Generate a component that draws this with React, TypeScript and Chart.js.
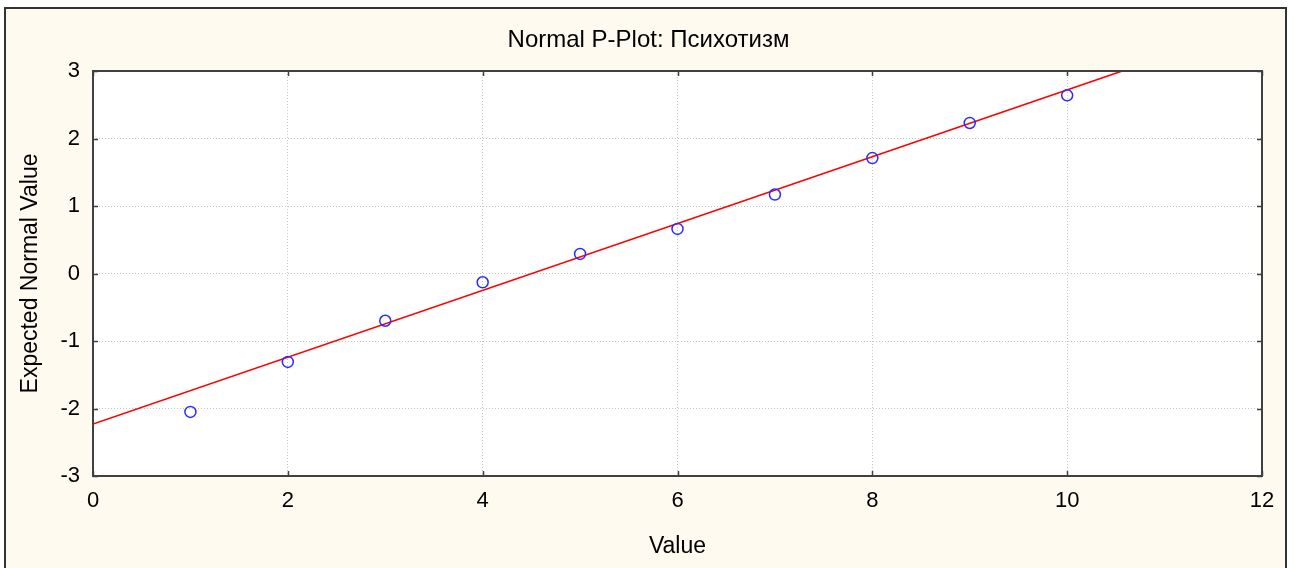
import React, { useEffect, useRef } from "react";
import { Chart, registerables } from "chart.js";

Chart.register(...registerables);

const titleText = "Normal P-Plot: Психотизм";
const xLabel = "Value";
const yLabel = "Expected Normal Value";
const pointX = [1, 2, 3, 4, 5, 6, 7, 8, 9, 10];
const pointY = [-2.05, -1.31, -0.7, -0.13, 0.29, 0.66, 1.17, 1.71, 2.23, 2.64];
const fitX = [0, 12];
const fitY = [-2.23, 3.71];
const xRange = [0, 12];
const yRange = [-3, 3];

const FONT = "'Liberation Sans', Arial, sans-serif";

const framePlugin = {
  id: "framePlugin",
  beforeDraw(chart: any) {
    const { ctx, width, height, chartArea } = chart;
    ctx.save();
    ctx.fillStyle = "#ffffff";
    ctx.fillRect(0, 0, width, height);
    ctx.fillStyle = "#fffaf0";
    ctx.fillRect(5, 8, 1281, height + 20);
    ctx.strokeStyle = "#333333";
    ctx.lineWidth = 2;
    ctx.strokeRect(5, 8, 1281, height + 20);
    ctx.fillStyle = "#ffffff";
    ctx.fillRect(chartArea.left, chartArea.top, chartArea.right - chartArea.left, chartArea.bottom - chartArea.top);
    // title
    ctx.fillStyle = "#000000";
    ctx.font = `24px ${FONT}`;
    ctx.textAlign = "center";
    ctx.textBaseline = "middle";
    ctx.fillText(titleText, width / 2, 40);
    ctx.restore();
  },
  afterDraw(chart: any) {
    const { ctx, chartArea, scales } = chart;
    const { left, right, top, bottom } = chartArea;
    ctx.save();
    ctx.strokeStyle = "#404040";
    ctx.lineWidth = 2;
    ctx.strokeRect(left, top, right - left, bottom - top);
    ctx.lineWidth = 1.5;
    const tl = 5;
    ctx.beginPath();
    scales.x.ticks.forEach((t: any) => {
      const px = Math.round(scales.x.getPixelForValue(t.value)) + 0.5;
      ctx.moveTo(px, bottom);
      ctx.lineTo(px, bottom - tl);
      ctx.moveTo(px, top);
      ctx.lineTo(px, top + tl);
    });
    scales.y.ticks.forEach((t: any) => {
      const py = Math.round(scales.y.getPixelForValue(t.value)) + 0.5;
      ctx.moveTo(left, py);
      ctx.lineTo(left + tl, py);
      ctx.moveTo(right, py);
      ctx.lineTo(right - tl, py);
    });
    ctx.stroke();
    ctx.restore();
  },
};

export default function App() {
  const ref = useRef<HTMLCanvasElement | null>(null);
  useEffect(() => {
    document.body.style.margin = "0";
    const canvas = ref.current!;
    const chart = new Chart(canvas, {
      type: "scatter",
      data: {
        datasets: [
          {
            type: "scatter",
            label: "Observed",
            data: pointX.map((x, i) => ({ x, y: pointY[i] })),
            pointRadius: 5.5,
            pointBorderWidth: 1.5,
            pointBorderColor: "#2b2bff",
            pointBackgroundColor: "rgba(0,0,0,0)",
            borderColor: "#2b2bff",
            backgroundColor: "rgba(0,0,0,0)",
          },
          {
            type: "line",
            label: "Fit",
            data: fitX.map((x, i) => ({ x, y: fitY[i] })),
            borderColor: "#ff0000",
            borderWidth: 1.6,
            pointRadius: 0,
            fill: false,
            clip: 0 as any,
          } as any,
        ],
      },
      options: {
        responsive: false,
        animation: false,
        devicePixelRatio: 1,
        layout: { padding: { left: 0, right: 35, top: 71, bottom: 0 } },
        plugins: {
          legend: { display: false },
          title: { display: false },
          tooltip: { enabled: false },
        },
        scales: {
          x: {
            type: "linear",
            min: xRange[0],
            max: xRange[1],
            ticks: {
              stepSize: 2,
              padding: 12,
              color: "#000",
              font: { family: FONT, size: 22 },
            },
            grid: { color: "#c4c4c4", lineWidth: 1, drawTicks: false },
            border: { display: false, dash: [1, 2] },
            title: {
              display: true,
              text: xLabel,
              color: "#000",
              font: { family: FONT, size: 23 },
              padding: { top: 0, bottom: 8 },
            },
            afterFit: (s: any) => {
              s.height = 568 - 476;
            },
          },
          y: {
            type: "linear",
            min: yRange[0],
            max: yRange[1],
            ticks: {
              stepSize: 1,
              padding: 13,
              color: "#000",
              font: { family: FONT, size: 22 },
            },
            grid: { color: "#c4c4c4", lineWidth: 1, drawTicks: false },
            border: { display: false, dash: [1, 2] },
            title: {
              display: true,
              text: yLabel,
              color: "#000",
              font: { family: FONT, size: 23 },
              padding: { top: 17, bottom: 0 },
            },
            afterFit: (s: any) => {
              s.width = 93;
            },
          },
        },
      },
      plugins: [framePlugin],
    });
    return () => chart.destroy();
  }, []);
  return <canvas ref={ref} width={1297} height={568} style={{ display: "block" }} />;
}
